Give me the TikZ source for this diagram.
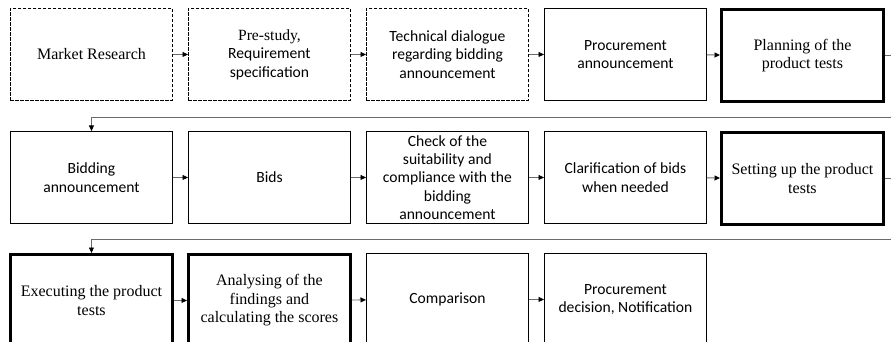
\documentclass[tikz,border=0pt]{standalone}
\usepackage{fontspec}
\setmainfont{Liberation Serif}
\newfontfamily\bodysans{Carlito}
\usetikzlibrary{arrows.meta}
\definecolor{linegray}{HTML}{6A6A6A}
\begin{document}
\begin{tikzpicture}[x=1pt,y=-1pt,
  stage/.style={draw=black,line width=0.9pt,minimum width=162pt,minimum height=92pt,
    inner sep=0pt,align=center,anchor=north west},
  optional/.style={stage,dash pattern=on 3.2pt off 1.8pt},
  keystage/.style={stage,line width=2.9pt},
  serifstyle/.style={font=\fontsize{16}{18.4}\selectfont},
  sansstyle/.style={font=\bodysans\fontsize{15.6}{18.4}\selectfont},
  conn/.style={draw=linegray,line width=0.9pt,-{Triangle[length=5.5pt,width=5pt,color=black]}}]
\clip (0,0) rectangle (891,342);
\fill[white] (0,0) rectangle (891,342);

% first row
\node[optional,serifstyle] (market) at (10,8) {Market Research};
\node[optional,sansstyle] (prestudy) at (188,8) {{\rmfamily Pre-study,}\\Requirement\\specification};
\node[optional,sansstyle] (dialogue) at (366,8) {Technical dialogue\\regarding bidding\\announcement};
\node[stage,sansstyle] (procure) at (544,8) {Procurement\\announcement};
\node[keystage,serifstyle] (planning) at (720,8) {Planning of the\\product tests};

% second row
\node[stage,sansstyle] (bidding) at (10,131) {Bidding\\announcement};
\node[stage,sansstyle] (bids) at (188,131) {Bids};
\node[stage,sansstyle] (check) at (366,131) {Check of the\\suitability and\\compliance with the\\bidding\\announcement};
\node[stage,sansstyle] (clarify) at (544,131) {Clarification of bids\\when needed};
\node[keystage,serifstyle] (setup) at (720,131) {Setting up the product\\tests};

% third row
\node[keystage,serifstyle] (execute) at (9,253) {Executing the product\\tests};
\node[keystage,serifstyle] (analyse) at (187,253) {Analysing of the\\findings and\\calculating the scores};
\node[stage,sansstyle] (compare) at (366,253) {Comparison};
\node[stage,sansstyle] (decision) at (544,253) {Procurement\\decision, Notification};

% turning points of the row changes
\coordinate (turnA) at (905,117);
\coordinate (turnB) at (905,239);

% connectors
\draw[conn] (market) -- (prestudy);
\draw[conn] (prestudy) -- (dialogue);
\draw[conn] (dialogue) -- (procure);
\draw[conn] (procure) -- (planning);
\draw[conn] (planning.east) -| (turnA) -| (bidding.north);
\draw[conn] (bidding) -- (bids);
\draw[conn] (bids) -- (check);
\draw[conn] (check) -- (clarify);
\draw[conn] (clarify) -- (setup);
\draw[conn] (setup.east) -| (turnB) -| (execute.north);
\draw[conn] (execute) -- (analyse);
\draw[conn] (analyse) -- (compare);
\draw[conn] (compare) -- (decision);
\end{tikzpicture}
\end{document}
